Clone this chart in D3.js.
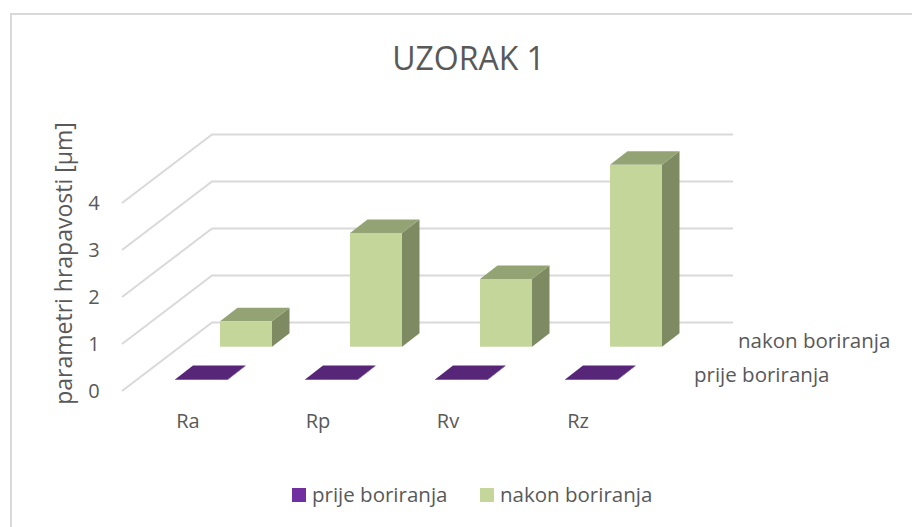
<!DOCTYPE html>
<html><head><meta charset="utf-8">
<script src="https://cdn.jsdelivr.net/npm/d3@7"></script>
<style>html,body{margin:0;background:#fff}svg{display:block}text{font-family:"Open Sans",sans-serif;fill:#595959}</style>
</head><body><svg id="c" width="912" height="527"></svg>
<script>
const categories=["Ra","Rp","Rv","Rz"];
const prijeValues=[0.01,0.01,0.01,0.01];
const nakonValues=[0.54,2.42,1.44,3.87];
const yTicks=[0,1,2,3,4];
const seriesNames=["prije boriranja","nakon boriranja"];
const svg=d3.select("#c");
svg.append("path").attr("d","M11,527V14H912").attr("fill","none").attr("stroke","#d9d9d9").attr("stroke-width",2);
svg.append("text").attr("x",468.5).attr("y",70).attr("text-anchor","middle").attr("font-size",32).text("UZORAK 1");
const h=d3.scaleLinear().domain([0,4]).range([0,-188]);
const x=d3.scalePoint().domain(categories).range([0,390]);
const depth={dx:90,dy:-68.5};
const gx=122,gy=391;
const grid=svg.append("g").attr("fill","none").attr("stroke","#d9d9d9").attr("stroke-width",2);
yTicks.forEach(t=>{
  const y=gy+h(t);
  grid.append("path").attr("d",`M${gx},${y}L${gx+depth.dx},${y+depth.dy}L733,${y+depth.dy}`);
  svg.append("text").attr("x",94).attr("y",y+7).attr("text-anchor","middle").attr("font-size",20).text(t);
});
function bar(g,bx,by,w,ht,dx,dy,c){
  const top=by+h(ht);
  g.append("path").attr("d",`M${bx+w},${by}L${bx+w+dx},${by+dy}L${bx+w+dx},${top+dy}L${bx+w},${top}Z`).attr("fill",c[2]);
  g.append("path").attr("d",`M${bx},${top}L${bx+dx},${top+dy}L${bx+w+dx},${top+dy}L${bx+w},${top}Z`).attr("fill",c[1]);
  g.append("rect").attr("x",bx).attr("y",top).attr("width",w).attr("height",by-top).attr("fill",c[0]);
}
const bars=svg.append("g");
prijeValues.forEach((v,i)=>bar(bars,175+x(categories[i]),380,52.5,v,18,-14,["#5a2a80","#582679","#4a2066"]));
nakonValues.forEach((v,i)=>bar(bars,220+x(categories[i]),346.7,52,v,17.5,-13.5,["#c4d69a","#94a374","#7d8a62"]));
categories.forEach(c=>svg.append("text").attr("x",188+x(c)).attr("y",428).attr("text-anchor","middle").attr("font-size",20).text(c));
svg.append("text").attr("x",738).attr("y",348).attr("font-size",20.5).text(seriesNames[1]);
svg.append("text").attr("x",694).attr("y",381.5).attr("font-size",20.5).text(seriesNames[0]);
svg.append("text").attr("transform","translate(72,263.5) rotate(-90)").attr("text-anchor","middle").attr("font-size",23).text("parametri hrapavosti [µm]");
const leg=[[292,"#7030a0"],[480,"#c4d69a"]];
leg.forEach((l,i)=>{
  svg.append("rect").attr("x",l[0]).attr("y",488).attr("width",14).attr("height",14).attr("fill",l[1]);
  svg.append("text").attr("x",l[0]+20).attr("y",502).attr("font-size",20.5).text(seriesNames[i]);
});
</script></body></html>
